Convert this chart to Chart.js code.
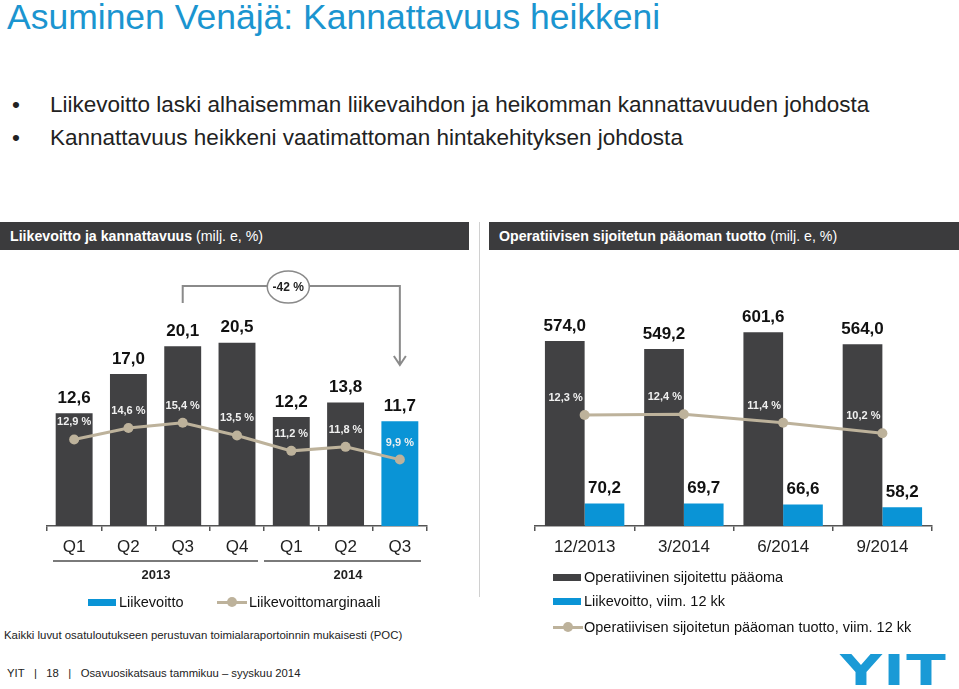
<!DOCTYPE html>
<html lang="fi">
<head>
<meta charset="UTF-8">
<title>Asuminen Venäjä: Kannattavuus heikkeni</title>
<script src="https://cdn.jsdelivr.net/npm/chart.js@4.4.1/dist/chart.umd.min.js"></script>
<style>
  body { margin: 0; width: 959px; height: 689px; position: relative; background: #fff; overflow: hidden;
         font-family: 'Liberation Sans', Arial, sans-serif; color: #222; }
  .abs { position: absolute; white-space: nowrap; }
  #title { left: 7px; top: -3px; font-size: 35.5px; line-height: 40px; color: #1b95d0; }
  .bullet { left: 12px; font-size: 22.5px; line-height: 24px; color: #222; }
  .bullet span { position: absolute; left: 38px; }
  .hdr { top: 222px; height: 28px; line-height: 28px; background: #3b3b3d; color: #fff; font-size: 14.2px; padding-left: 10px; box-sizing: border-box; }
  .hdr b { font-weight: bold; }
  #sep { left: 479px; top: 222px; width: 1px; height: 375px; background: #d0d0d0; }
  canvas { position: absolute; }
  .yr { font-size: 13px; font-weight: bold; line-height: 16px; transform: translateX(-50%); }
  .uline { height: 2px; background: #7a7a7a; top: 560px; }
  .leg { font-size: 14.5px; line-height: 18px; color: #111; }
  .sw { position: absolute; height: 7px; }
  .note { font-size: 11.3px; line-height: 14px; color: #222; }
  #logo { left: 840px; top: 650px; font-family: 'DejaVu Sans', sans-serif; font-weight: bold; font-size: 42px; line-height: 42px;
          color: #1a9ad6; transform: scaleX(1.38); transform-origin: left top; letter-spacing: 1px; }
</style>
</head>
<body>
<div id="title" class="abs">Asuminen Venäjä: Kannattavuus heikkeni</div>
<div class="abs bullet" style="top:93px">•<span>Liikevoitto laski alhaisemman liikevaihdon ja heikomman kannattavuuden johdosta</span></div>
<div class="abs bullet" style="top:126px">•<span>Kannattavuus heikkeni vaatimattoman hintakehityksen johdosta</span></div>

<div class="abs hdr" style="left:0;width:469px"><b>Liikevoitto ja kannattavuus</b> (milj. e, %)</div>
<div class="abs hdr" style="left:489px;width:470px"><b>Operatiivisen sijoitetun pääoman tuotto</b> (milj. e, %)</div>
<div id="sep" class="abs"></div>

<canvas id="c1" width="479" height="316" style="left:0;top:250px"></canvas>
<canvas id="c2" width="470" height="318" style="left:489px;top:250px"></canvas>

<div class="abs uline" style="left:53px;width:205px"></div>
<div class="abs uline" style="left:264px;width:157px"></div>
<div class="abs yr" style="left:156px;top:567px">2013</div>
<div class="abs yr" style="left:348px;top:567px">2014</div>

<div class="abs leg" style="left:88px;top:593px"><div class="sw" style="left:0;top:6px;width:28px;background:#0a94d6"></div><span style="position:absolute;left:31px">Liikevoitto</span></div>
<div class="abs leg" style="left:217px;top:593px">
  <div class="sw" style="left:0;top:7.5px;width:30px;height:3px;background:#bdb29b"></div>
  <div class="sw" style="left:10px;top:4px;width:10px;height:10px;border-radius:50%;background:#bdb29b"></div>
  <span style="position:absolute;left:32px">Liikevoittomarginaali</span></div>

<div class="abs leg" style="left:553px;top:568px"><div class="sw" style="left:0;top:6px;width:28px;background:#414143"></div><span style="position:absolute;left:31px">Operatiivinen sijoitettu pääoma</span></div>
<div class="abs leg" style="left:553px;top:592px"><div class="sw" style="left:0;top:6px;width:28px;background:#0a94d6"></div><span style="position:absolute;left:31px">Liikevoitto, viim. 12 kk</span></div>
<div class="abs leg" style="left:553px;top:618px">
  <div class="sw" style="left:0;top:7.5px;width:30px;height:3px;background:#bdb29b"></div>
  <div class="sw" style="left:10px;top:4px;width:10px;height:10px;border-radius:50%;background:#bdb29b"></div>
  <span style="position:absolute;left:31px">Operatiivisen sijoitetun pääoman tuotto, viim. 12 kk</span></div>

<div class="abs note" style="left:4px;top:628px;font-size:11.4px">Kaikki luvut osatuloutukseen perustuvan toimialaraportoinnin mukaisesti (POC)</div>
<div class="abs note" style="left:7px;top:666px">YIT&nbsp;&nbsp;&nbsp;|&nbsp;&nbsp;&nbsp;18&nbsp;&nbsp;&nbsp;|&nbsp;&nbsp;&nbsp;Osavuosikatsaus tammikuu – syyskuu 2014</div>
<div id="logo" class="abs">YIT</div>

<script>
// Liikevoitto ja kannattavuus (milj. e, %)
var quarters = ['Q1', 'Q2', 'Q3', 'Q4', 'Q1', 'Q2', 'Q3'];
var liikevoitto = [12.6, 17.0, 20.1, 20.5, 12.2, 13.8, 11.7];
var marginaali = [12.9, 14.6, 15.4, 13.5, 11.2, 11.8, 9.9];

// Operatiivisen sijoitetun pääoman tuotto (milj. e, %)
var kaudet = ['12/2013', '3/2014', '6/2014', '9/2014'];
var paaoma = [574.0, 549.2, 601.6, 564.0];
var liikevoitto12 = [70.2, 69.7, 66.6, 58.2];
var tuotto = [12.3, 12.4, 11.4, 10.2];

var dark = '#414143';
var blue = '#0a94d6';
var tan = '#bdb29b';
var fontFam = "'Liberation Sans', Arial, sans-serif";

Chart.defaults.font.family = fontFam;

function fmt(v) { return v.toFixed(1).replace('.', ','); }

// value labels: bars above, line values in white
var arvot = {
  id: 'arvot',
  afterDatasetsDraw: function (chart, args, opts) {
    var ctx = chart.ctx;
    ctx.save();
    ctx.textAlign = 'center';
    ctx.textBaseline = 'middle';
    chart.data.datasets.forEach(function (ds, i) {
      var meta = chart.getDatasetMeta(i);
      meta.data.forEach(function (el, j) {
        if (ds.type === 'bar') {
          ctx.font = 'bold 17px ' + fontFam;
          ctx.fillStyle = '#111';
          ctx.fillText(fmt(ds.data[j]), el.x, el.y - 15);
        } else {
          ctx.font = 'bold 11px ' + fontFam;
          ctx.fillStyle = '#f0f0f0';
          ctx.fillText(fmt(ds.data[j]) + ' %', el.x + opts.dx, el.y - 17);
        }
      });
    });
    ctx.restore();
  }
};

// -42 % bracket from Q3 2013 to Q3 2014
var bracket = {
  id: 'bracket',
  afterDraw: function (chart) {
    var ctx = chart.ctx, x = chart.scales.x;
    var x1 = x.getPixelForValue(2), x2 = x.getPixelForValue(6);
    var yh = 36;
    ctx.save();
    ctx.strokeStyle = '#8a8a8a';
    ctx.lineWidth = 2;
    ctx.beginPath();
    ctx.moveTo(x1, 53); ctx.lineTo(x1, yh); ctx.lineTo(x2, yh); ctx.lineTo(x2, 115);
    ctx.moveTo(x2 - 6, 106); ctx.lineTo(x2, 115); ctx.lineTo(x2 + 6, 106);
    ctx.stroke();
    var cx = (x1 + x2) / 2 - 3;
    ctx.beginPath();
    ctx.ellipse(cx, 37, 21, 16, 0, 0, Math.PI * 2);
    ctx.fillStyle = '#fff';
    ctx.fill();
    ctx.lineWidth = 1.5;
    ctx.stroke();
    ctx.fillStyle = '#222';
    ctx.font = 'bold 12px ' + fontFam;
    ctx.textAlign = 'center';
    ctx.textBaseline = 'middle';
    ctx.fillText('-42 %', cx, 38);
    ctx.restore();
  }
};

function xAxis(pad) {
  return {
    grid: { display: true, drawOnChartArea: false, drawTicks: true, tickLength: 5, color: '#555', lineWidth: 1.5, offset: true },
    border: { display: true, color: '#555', width: 1.5 },
    ticks: { font: { size: 17 }, color: '#222', padding: pad }
  };
}

new Chart(document.getElementById('c1'), {
  type: 'bar',
  data: {
    labels: quarters,
    datasets: [
      { type: 'line', data: marginaali, yAxisID: 'y2', borderColor: tan, backgroundColor: tan, borderWidth: 3,
        pointRadius: 5, pointHoverRadius: 5, pointBorderWidth: 0, tension: 0, order: 0 },
      { type: 'bar', data: liikevoitto, yAxisID: 'y', order: 1,
        backgroundColor: liikevoitto.map(function (v, i) { return i === liikevoitto.length - 1 ? blue : dark; }),
        categoryPercentage: 1, barPercentage: 0.68 }
    ]
  },
  options: {
    responsive: false, animation: false, events: [],
    layout: { padding: { left: 47, right: 52, top: 34.5, bottom: 2.6 } },
    plugins: { legend: { display: false }, tooltip: { enabled: false }, arvot: { dx: 0 } },
    scales: {
      x: xAxis(6),
      y: { display: false, min: 0, max: 27 },
      y2: { display: false, min: 0, max: 36, position: 'right' }
    }
  },
  plugins: [arvot, bracket]
});

new Chart(document.getElementById('c2'), {
  type: 'bar',
  data: {
    labels: kaudet,
    datasets: [
      { type: 'line', data: tuotto, yAxisID: 'y2', borderColor: tan, backgroundColor: tan, borderWidth: 3,
        pointRadius: 5, pointHoverRadius: 5, pointBorderWidth: 0, tension: 0, order: 0 },
      { type: 'bar', data: paaoma, yAxisID: 'y', backgroundColor: dark, categoryPercentage: 0.8, barPercentage: 1, order: 1 },
      { type: 'bar', data: liikevoitto12, yAxisID: 'y', backgroundColor: blue, categoryPercentage: 0.8, barPercentage: 1, order: 1 }
    ]
  },
  options: {
    responsive: false, animation: false, events: [],
    layout: { padding: { left: 46, right: 27, top: 35, bottom: 4.6 } },
    plugins: { legend: { display: false }, tooltip: { enabled: false }, arvot: { dx: -19 } },
    scales: {
      x: xAxis(6),
      y: { display: false, min: 0, max: 748 },
      y2: { display: false, min: -0.5, max: 27.3, position: 'right' }
    }
  },
  plugins: [arvot]
});
</script>
</body>
</html>
